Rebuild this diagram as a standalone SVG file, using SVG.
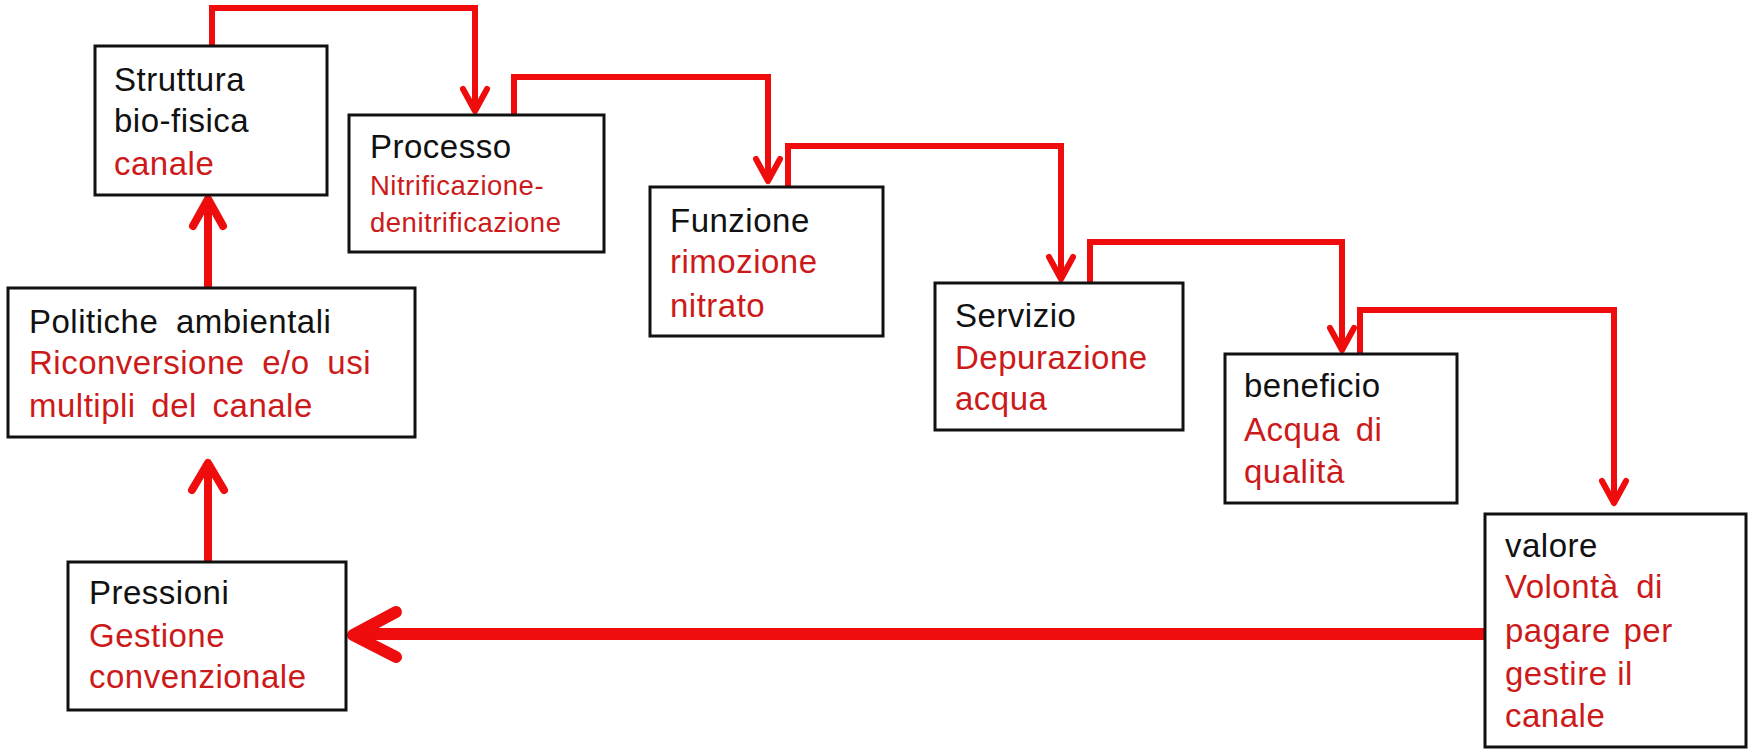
<svg xmlns="http://www.w3.org/2000/svg" width="1752" height="749" viewBox="0 0 1752 749">
<style>
.box{fill:#fff;stroke:#111;stroke-width:3}
text{font-family:"Liberation Sans",Arial,sans-serif;font-size:33px;letter-spacing:0.5px}
.k{fill:#111}
.r{fill:#cc1a1a}
.s{font-size:27.5px}
.ln{fill:none;stroke:#ee0c0c;stroke-linejoin:miter;stroke-linecap:butt}
.t{stroke-width:6}
.m{stroke-width:8}
.head{fill:none;stroke:#ee0c0c;stroke-linejoin:round;stroke-linecap:round}
</style>
<rect width="1752" height="749" fill="#fff"/>
<g id="connectors">
  <path class="ln t" d="M212,46 V8 H475 V110"/>
  <path class="head t" d="M463,89 L475,111 L487,89"/>
  <path class="ln t" d="M514,115 V77 H768 V180"/>
  <path class="head t" d="M756,159 L768,181 L780,159"/>
  <path class="ln t" d="M788,187 V146 H1061 V278"/>
  <path class="head t" d="M1049,257 L1061,279 L1073,257"/>
  <path class="ln t" d="M1090,283 V242 H1342 V349"/>
  <path class="head t" d="M1330,328 L1342,350 L1354,328"/>
  <path class="ln t" d="M1360,354 V310 H1614 V502"/>
  <path class="head t" d="M1602,481 L1614,503 L1626,481"/>
  <path class="ln m" d="M208,288 V200"/>
  <path class="head m" d="M193,226 L208,199 L223,226"/>
  <path class="ln m" d="M208,561 V464"/>
  <path class="head m" d="M192,490 L208,463 L224,490"/>
  <path class="ln" style="stroke-width:12" d="M1485,634 H356"/>
  <path class="head" style="stroke-width:12" d="M396,612 L353,635 L396,657"/>
</g>
<g id="struttura">
  <rect class="box" x="95" y="46" width="232" height="149"/>
  <text x="114" y="91" class="k">Struttura</text>
  <text x="114" y="132" class="k">bio-fisica</text>
  <text x="114" y="175" class="r">canale</text>
</g>
<g id="processo">
  <rect class="box" x="349" y="115" width="255" height="137"/>
  <text x="370" y="158" class="k">Processo</text>
  <text x="370" y="195" class="r s">Nitrificazione-</text>
  <text x="370" y="232" class="r s">denitrificazione</text>
</g>
<g id="funzione">
  <rect class="box" x="650" y="187" width="233" height="149"/>
  <text x="670" y="232" class="k">Funzione</text>
  <text x="670" y="273" class="r">rimozione</text>
  <text x="670" y="317" class="r">nitrato</text>
</g>
<g id="servizio">
  <rect class="box" x="935" y="283" width="248" height="147"/>
  <text x="955" y="327" class="k">Servizio</text>
  <text x="955" y="369" class="r">Depurazione</text>
  <text x="955" y="410" class="r">acqua</text>
</g>
<g id="beneficio">
  <rect class="box" x="1225" y="354" width="232" height="149"/>
  <text x="1244" y="397" class="k">beneficio</text>
  <text x="1244" y="441" class="r" word-spacing="6">Acqua di</text>
  <text x="1244" y="483" class="r">qualità</text>
</g>
<g id="valore">
  <rect class="box" x="1485" y="514" width="261" height="233"/>
  <text x="1505" y="557" class="k">valore</text>
  <text x="1505" y="598" class="r" word-spacing="8">Volontà di</text>
  <text x="1505" y="642" class="r" word-spacing="3">pagare per</text>
  <text x="1505" y="685" class="r">gestire il</text>
  <text x="1505" y="727" class="r">canale</text>
</g>
<g id="politiche">
  <rect class="box" x="8" y="288" width="407" height="149"/>
  <text x="29" y="333" class="k" word-spacing="8">Politiche ambientali</text>
  <text x="29" y="374" class="r" word-spacing="8">Riconversione e/o usi</text>
  <text x="29" y="417" class="r" word-spacing="6">multipli del canale</text>
</g>
<g id="pressioni">
  <rect class="box" x="68" y="562" width="278" height="148"/>
  <text x="89" y="604" class="k">Pressioni</text>
  <text x="89" y="647" class="r">Gestione</text>
  <text x="89" y="688" class="r">convenzionale</text>
</g>
</svg>
